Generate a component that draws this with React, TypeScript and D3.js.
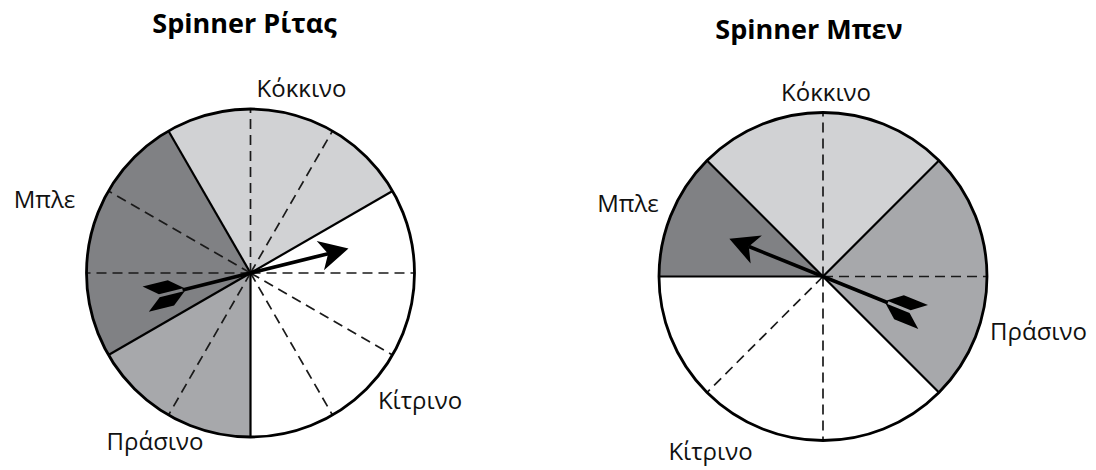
import * as d3 from "d3";
import { useEffect, useRef } from "react";

// spinner data
const titles = ["Spinner Ρίτας", "Spinner Μπεν"];
const ritaColours = ["Κόκκινο", "Κίτρινο", "Πράσινο", "Μπλε"];
const ritaSectors = [3, 4, 2, 3]; // out of 12 equal parts, clockwise from -30deg
const benColours = ["Κόκκινο", "Πράσινο", "Κίτρινο", "Μπλε"];
const benSectors = [2, 2, 3, 1]; // out of 8 equal parts, clockwise from -45deg
const arrowAngles = [76, 292]; // degrees clockwise from 12 o'clock

const fills: Record<string, string> = {
  Κόκκινο: "#d1d2d4",
  Κίτρινο: "#ffffff",
  Πράσινο: "#a7a8ab",
  Μπλε: "#808184",
};

// layout
const spinners = [
  {
    title: titles[0],
    colours: ritaColours,
    sectors: ritaSectors,
    startDeg: -30,
    cx: 250.5,
    cy: 273,
    r: 164,
    titleX: 244.5,
    titleY: 33,
    arrow: arrowAngles[0],
    labels: [
      [51, -176.5],
      [169.5, 135.5],
      [-95.5, 176.5],
      [-206, -65.5],
    ],
  },
  {
    title: titles[1],
    colours: benColours,
    sectors: benSectors,
    startDeg: -45,
    cx: 823,
    cy: 276.5,
    r: 164,
    titleX: 809,
    titleY: 39,
    arrow: arrowAngles[1],
    labels: [
      [3, -176],
      [215.5, 63.5],
      [-112.5, 183.5],
      [-195, -65],
    ],
  },
];

const font = "'Open Sans', sans-serif";

export default function App() {
  const svgRef = useRef<SVGSVGElement>(null);

  useEffect(() => {
    const svg = d3.select(svgRef.current);
    svg.selectAll("*").remove();

    spinners.forEach((s) => {
      const g = svg.append("g").attr("transform", `translate(${s.cx},${s.cy})`);
      const total = d3.sum(s.sectors);
      const start = (s.startDeg * Math.PI) / 180;
      const angle = d3
        .scaleLinear()
        .domain([0, total])
        .range([start, start + 2 * Math.PI]);

      const pie = d3
        .pie<number>()
        .sort(null)
        .value((d) => d)
        .startAngle(start)
        .endAngle(start + 2 * Math.PI);
      const arc = d3.arc<d3.PieArcDatum<number>>().innerRadius(0).outerRadius(s.r);

      g.selectAll("path.slice")
        .data(pie(s.sectors))
        .enter()
        .append("path")
        .attr("class", "slice")
        .attr("d", arc)
        .attr("fill", (d, i) => fills[s.colours[i]])
        .attr("stroke", "none");

      // dashed dividers and solid boundaries
      const bounds = d3.cumsum(s.sectors);
      const boundSet = new Set([0, ...Array.from(bounds)].map((b) => b % total));
      d3.range(total).forEach((k) => {
        const a = angle(k);
        const solid = boundSet.has(k);
        g.append("line")
          .attr("x1", 0)
          .attr("y1", 0)
          .attr("x2", s.r * Math.sin(a))
          .attr("y2", -s.r * Math.cos(a))
          .attr("stroke", solid ? "#000" : "#1a1a1a")
          .attr("stroke-width", solid ? 2.2 : 1.7)
          .attr("stroke-dasharray", solid ? null : "10,6");
      });

      g.append("circle")
        .attr("r", s.r)
        .attr("fill", "none")
        .attr("stroke", "#000")
        .attr("stroke-width", 2.8);

      // arrow
      const arrowG = g.append("g").attr("transform", `rotate(${s.arrow - 90})`);
      const line = d3.line();
      arrowG
        .append("line")
        .attr("x1", -70)
        .attr("y1", 0)
        .attr("x2", 80)
        .attr("y2", 0)
        .attr("stroke", "#000")
        .attr("stroke-width", 3.6);
      arrowG
        .append("path")
        .attr(
          "d",
          line([
            [101, 0],
            [72, -15],
            [80, 0],
            [72, 15],
          ]) + "Z"
        )
        .attr("fill", "#000");
      [-1, 1].forEach((side) => {
        arrowG
          .append("path")
          .attr(
            "d",
            line([
              [-68, 1.5 * side],
              [-82, 13 * side],
              [-108, 13 * side],
              [-94, 1.5 * side],
            ]) + "Z"
          )
          .attr("fill", "#000");
      });

      // labels
      s.colours.forEach((c, i) => {
        svg
          .append("text")
          .attr("x", s.cx + s.labels[i][0])
          .attr("y", s.cy + s.labels[i][1])
          .attr("text-anchor", "middle")
          .attr("font-family", font)
          .attr("font-size", 24)
          .attr("fill", "#111")
          .text(c);
      });

      svg
        .append("text")
        .attr("x", s.titleX)
        .attr("y", s.titleY)
        .attr("text-anchor", "middle")
        .attr("font-family", font)
        .attr("font-weight", "bold")
        .attr("font-size", 27)
        .attr("fill", "#000")
        .text(s.title);
    });
  }, []);

  return (
    <svg
      ref={svgRef}
      width={1096}
      height={470}
      style={{ position: "absolute", left: 0, top: 0, background: "#fff" }}
    />
  );
}
